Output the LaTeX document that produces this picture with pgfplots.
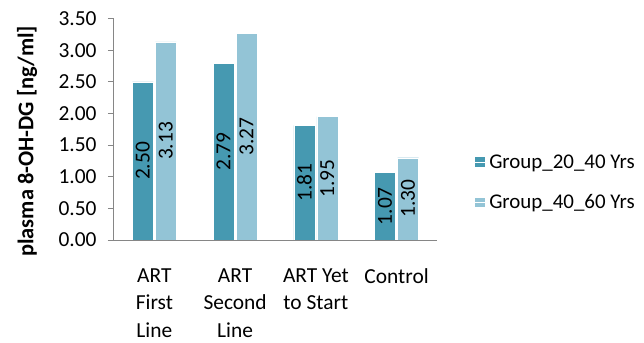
\documentclass[border=0pt]{standalone}
\usepackage{fontspec}
\setmainfont{Carlito}
\usepackage{pgfplots}
\usepackage{pgfplotstable}
\pgfplotsset{compat=1.18}
\pgfkeys{/pgf/number format/assume math mode=true}

\definecolor{darkteal}{RGB}{70,153,177}
\definecolor{lightteal}{RGB}{147,196,214}
\definecolor{axisgray}{RGB}{134,134,134}

% mean plasma 8-OH-DG per treatment group
\pgfplotstableread{
x  young  old
0  2.50   3.13
1  2.79   3.27
2  1.81   1.95
3  1.07   1.30
}\datatable

\newcommand{\chartfont}{\fontsize{21.5}{27.5}\selectfont}

\begin{document}
\begin{tikzpicture}
\useasboundingbox (-114bp,-103bp) rectangle (530bp,240bp);
\begin{axis}[
  at={(0,0)}, anchor=south west,
  scale only axis,
  width=323bp, height=221.5bp,
  axis on top,
  ybar=2bp, bar width=21bp,
  xmin=-0.5, xmax=3.5,
  ymin=0, ymax=3.5,
  ytick={0,0.5,1,1.5,2,2.5,3,3.5},
  xtick={0,1,2,3},
  xticklabels={{ART\\First\\Line},{ART\\Second\\Line},{ART Yet\\to Start},{Control}},
  axis x line*=bottom, axis y line*=left,
  axis line style={draw=axisgray, line width=1bp, -},
  x axis line style={shorten <=-6bp},
  tick align=outside,
  major tick length=6bp,
  y tick style={draw=axisgray, line width=1bp},
  x tick style={draw=none},
  yticklabel style={font=\chartfont, xshift=-8bp, /pgf/number format/.cd, fixed, fixed zerofill, precision=2},
  xticklabel style={font=\chartfont, align=center, anchor=north, yshift=-19bp},
  ylabel={plasma 8-OH-DG [ng/ml]},
  every axis y label/.style={at={(axis description cs:0,0.5)}, xshift=-87bp, yshift=-12bp,
     rotate=90, anchor=center, font=\fontsize{22.5}{27}\selectfont\bfseries},
  visualization depends on={y \as \rawy},
  nodes near coords={\pgfmathprintnumber[fixed,fixed zerofill,precision=2]{\pgfplotspointmeta}},
  every node near coord/.append style={shift={(axis direction cs:0,-\rawy/2)}, rotate=90,
     anchor=center, font=\chartfont, text=black},
  legend style={at={(axis description cs:1.117,0.26)}, anchor=west, draw=none, fill=none,
     font=\fontsize{21}{25}\selectfont, row sep=21bp, inner sep=0pt},
  legend cell align=left,
  legend image code/.code={\fill[#1, draw=none] (0bp,-4.75bp) rectangle (9.5bp,4.75bp);
     \path (0bp,0bp) -- (12bp,0bp);},
]
\addplot[fill=darkteal, draw=white, line width=0.3bp] table[x=x, y=young] {\datatable};
\addplot[fill=lightteal, draw=white, line width=0.3bp] table[x=x, y=old] {\datatable};
\legend{Group\_20\_40 Yrs, Group\_40\_60 Yrs}
\end{axis}
\end{tikzpicture}
\end{document}
